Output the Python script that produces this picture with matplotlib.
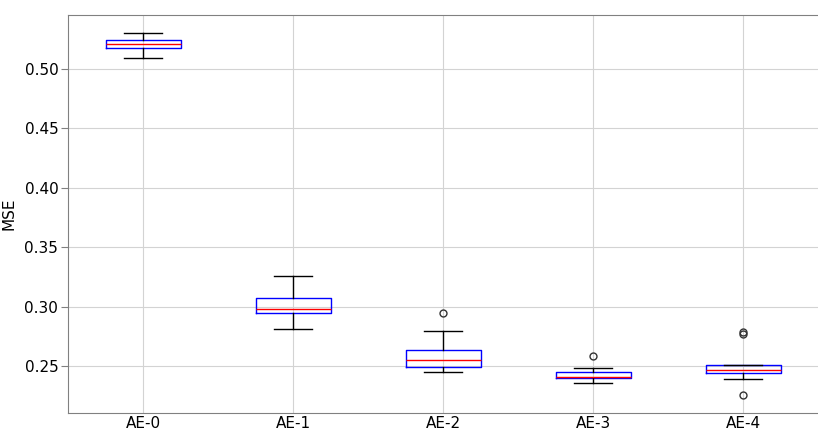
import matplotlib
matplotlib.use("Agg")
import matplotlib.pyplot as plt

# Summary statistics of reconstruction MSE per autoencoder
labels = ["AE-0", "AE-1", "AE-2", "AE-3", "AE-4"]
whislo = [0.5092, 0.2810, 0.2450, 0.2355, 0.2388]
q1 = [0.5176, 0.2950, 0.2497, 0.2402, 0.2441]
med = [0.5210, 0.2984, 0.2548, 0.2405, 0.2469]
q3 = [0.5243, 0.3076, 0.2640, 0.2447, 0.2511]
whishi = [0.5302, 0.3258, 0.2794, 0.2481, 0.2511]
fliers = [[], [], [0.2947], [0.2586], [0.2788, 0.2768, 0.2254]]

stats = []
for i in range(len(labels)):
    stats.append({"label": labels[i], "whislo": whislo[i], "q1": q1[i],
                  "med": med[i], "q3": q3[i], "whishi": whishi[i],
                  "fliers": fliers[i]})

fig = plt.figure(figsize=(8.18, 4.32), dpi=100)
ax = fig.add_axes([68/818, 19/432, 750/818, 398/432])

ax.bxp(stats,
       boxprops=dict(color="blue"),
       medianprops=dict(color="red"),
       whiskerprops=dict(color="black"),
       capprops=dict(color="black"),
       flierprops=dict(marker="o", markerfacecolor="none",
                       markeredgecolor="#333333", markersize=5))

ax.set_xlim(0.5, 5.5)
ax.set_ylim(0.2106, 0.5453)
ax.set_yticks([0.25, 0.30, 0.35, 0.40, 0.45, 0.50])
ax.set_ylabel("MSE", fontsize=11)
ax.yaxis.set_label_coords(-0.068, 0.5)
ax.tick_params(axis="both", labelsize=11, color="#808080")
ax.tick_params(axis="y", length=5, pad=2)
ax.tick_params(axis="x", length=0, pad=2)
ax.grid(True, color="#d3d3d3", linewidth=0.8)
ax.set_axisbelow(True)
for s in ["top", "left", "bottom"]:
    ax.spines[s].set_color("#808080")
ax.spines["right"].set_visible(False)

fig.savefig("out.png", dpi=100)
